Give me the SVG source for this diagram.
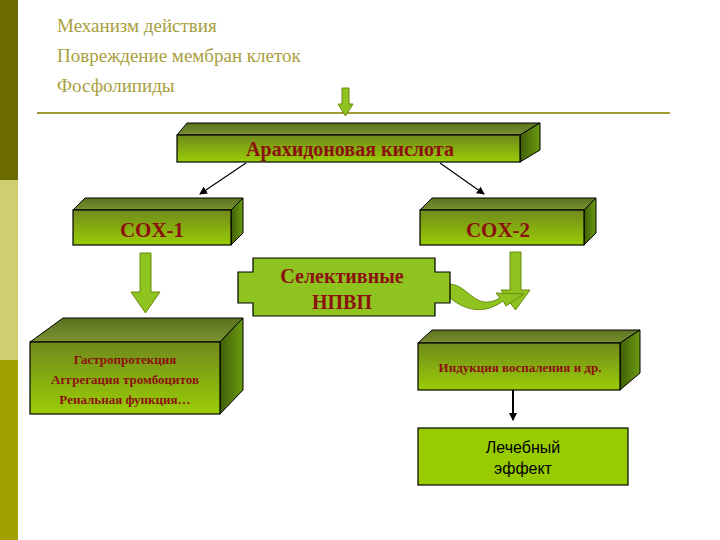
<svg xmlns="http://www.w3.org/2000/svg" width="720" height="540" viewBox="0 0 720 540">
<defs>
<linearGradient id="fr" x1="0" y1="0" x2="0" y2="1"><stop offset="0" stop-color="#6f8a1c"/><stop offset="1" stop-color="#9acd06"/></linearGradient>
<linearGradient id="tp" x1="0" y1="1" x2="0" y2="0"><stop offset="0" stop-color="#7a9230"/><stop offset="1" stop-color="#5a7220"/></linearGradient>
<linearGradient id="sd" x1="0" y1="0" x2="1" y2="0"><stop offset="0" stop-color="#3f5e08"/><stop offset="1" stop-color="#6a9a10"/></linearGradient>
<marker id="ah" markerWidth="8" markerHeight="8" refX="7" refY="4" orient="auto" markerUnits="userSpaceOnUse"><path d="M0,0 L8,4 L0,8 z" fill="#000"/></marker>
</defs>
<style>
.fr{fill:url(#fr);stroke:#000;stroke-width:1.2}
.tp{fill:url(#tp);stroke:#000;stroke-width:1}
.sd{fill:url(#sd);stroke:#000;stroke-width:1}
.rt{font-family:"Liberation Serif",serif;font-weight:bold;fill:#8b1010;text-anchor:middle}
.ga{fill:#8fc31f;stroke:#6a8a10;stroke-width:1}
.tt{font-family:"Liberation Serif",serif;font-size:19px;fill:#a8a040}
</style>
<rect x="0" y="0" width="18" height="180" fill="#6b6b00"/>
<rect x="0" y="180" width="18" height="180" fill="#d0cf70"/>
<rect x="0" y="360" width="18" height="180" fill="#a0a000"/>
<text class="tt" x="57" y="32">Механизм действия</text>
<text class="tt" x="57" y="62">Повреждение мембран клеток</text>
<text class="tt" x="57" y="92">Фосфолипиды</text>
<line x1="37" y1="113" x2="670" y2="113" stroke="#a09a30" stroke-width="2"/>
<g id="connectors">
<path class="ga" d="M342,88 H349 V104 H353 L345.5,116 L338,104 H342 Z"/>
<line x1="246" y1="163" x2="200" y2="194" stroke="#000" stroke-width="1.2" marker-end="url(#ah)"/>
<line x1="440" y1="163" x2="484" y2="194" stroke="#000" stroke-width="1.2" marker-end="url(#ah)"/>
<path class="ga" d="M140,253 H151 V292 H160 L145.5,313 L131,292 H140 Z"/>
<path class="ga" d="M510,252 H521 V290 H530 L515.5,310 L501,290 H510 Z"/>
<path class="ga" d="M450,284 C470,286 475,312 500,298 L496,293 L524,294 L506,306 L503,301 C480,318 460,306 450,298 Z"/>
<line x1="513" y1="390" x2="513" y2="420" stroke="#000" stroke-width="2" marker-end="url(#ah)"/>
</g>
<g id="arach">
<polygon class="tp" points="177,135 187,123 540,123 520,135"/>
<polygon class="sd" points="520,135 540,123 540,150 520,162"/>
<rect class="fr" x="177" y="135" width="343" height="27"/>
<text class="rt" x="350" y="156" font-size="20">Арахидоновая кислота</text>
</g>
<g id="cox1">
<polygon class="tp" points="73,210 85,198 243,198 231,210"/>
<polygon class="sd" points="231,210 243,198 243,233 231,245"/>
<rect class="fr" x="73" y="210" width="158" height="35"/>
<text class="rt" x="152" y="237" font-size="21">COX-1</text>
</g>
<g id="cox2">
<polygon class="tp" points="420,210 432,198 596,198 584,210"/>
<polygon class="sd" points="584,210 596,198 596,233 584,245"/>
<rect class="fr" x="420" y="210" width="164" height="35"/>
<text class="rt" x="498" y="237" font-size="21">COX-2</text>
</g>
<g id="nsaid">
<path d="M253,258 H435 V272 H450 V303 H435 V316 H253 V303 H238 V272 H253 Z" fill="#8fc31f" stroke="#000" stroke-width="1.2"/>
<text class="rt" x="342" y="283" font-size="20">Селективные</text>
<text class="rt" x="342" y="309" font-size="20">НПВП</text>
</g>
<g id="gastro">
<polygon class="tp" points="30,342 63,318 243,318 220,342"/>
<polygon class="sd" points="220,342 243,318 243,390 220,414"/>
<rect class="fr" x="30" y="342" width="190" height="72"/>
<text class="rt" x="125" y="364" font-size="13">Гастропротекция</text>
<text class="rt" x="125" y="384" font-size="13">Аггрегация тромбоцитов</text>
<text class="rt" x="125" y="404" font-size="13">Ренальная функция…</text>
</g>
<g id="induct">
<polygon class="tp" points="418,343 432,330 640,330 620,343"/>
<polygon class="sd" points="620,343 640,330 640,373 620,390"/>
<rect class="fr" x="418" y="343" width="202" height="47"/>
<text class="rt" x="520" y="372" font-size="13">Индукция воспаления и др.</text>
</g>
<g id="effect">
<rect x="418" y="428" width="210" height="57" fill="#99cc00" stroke="#000" stroke-width="1.2"/>
<text x="523" y="453" font-family="Liberation Sans,sans-serif" font-size="16" text-anchor="middle">Лечебный</text>
<text x="523" y="474" font-family="Liberation Sans,sans-serif" font-size="16" text-anchor="middle">эффект</text>
</g>
</svg>
